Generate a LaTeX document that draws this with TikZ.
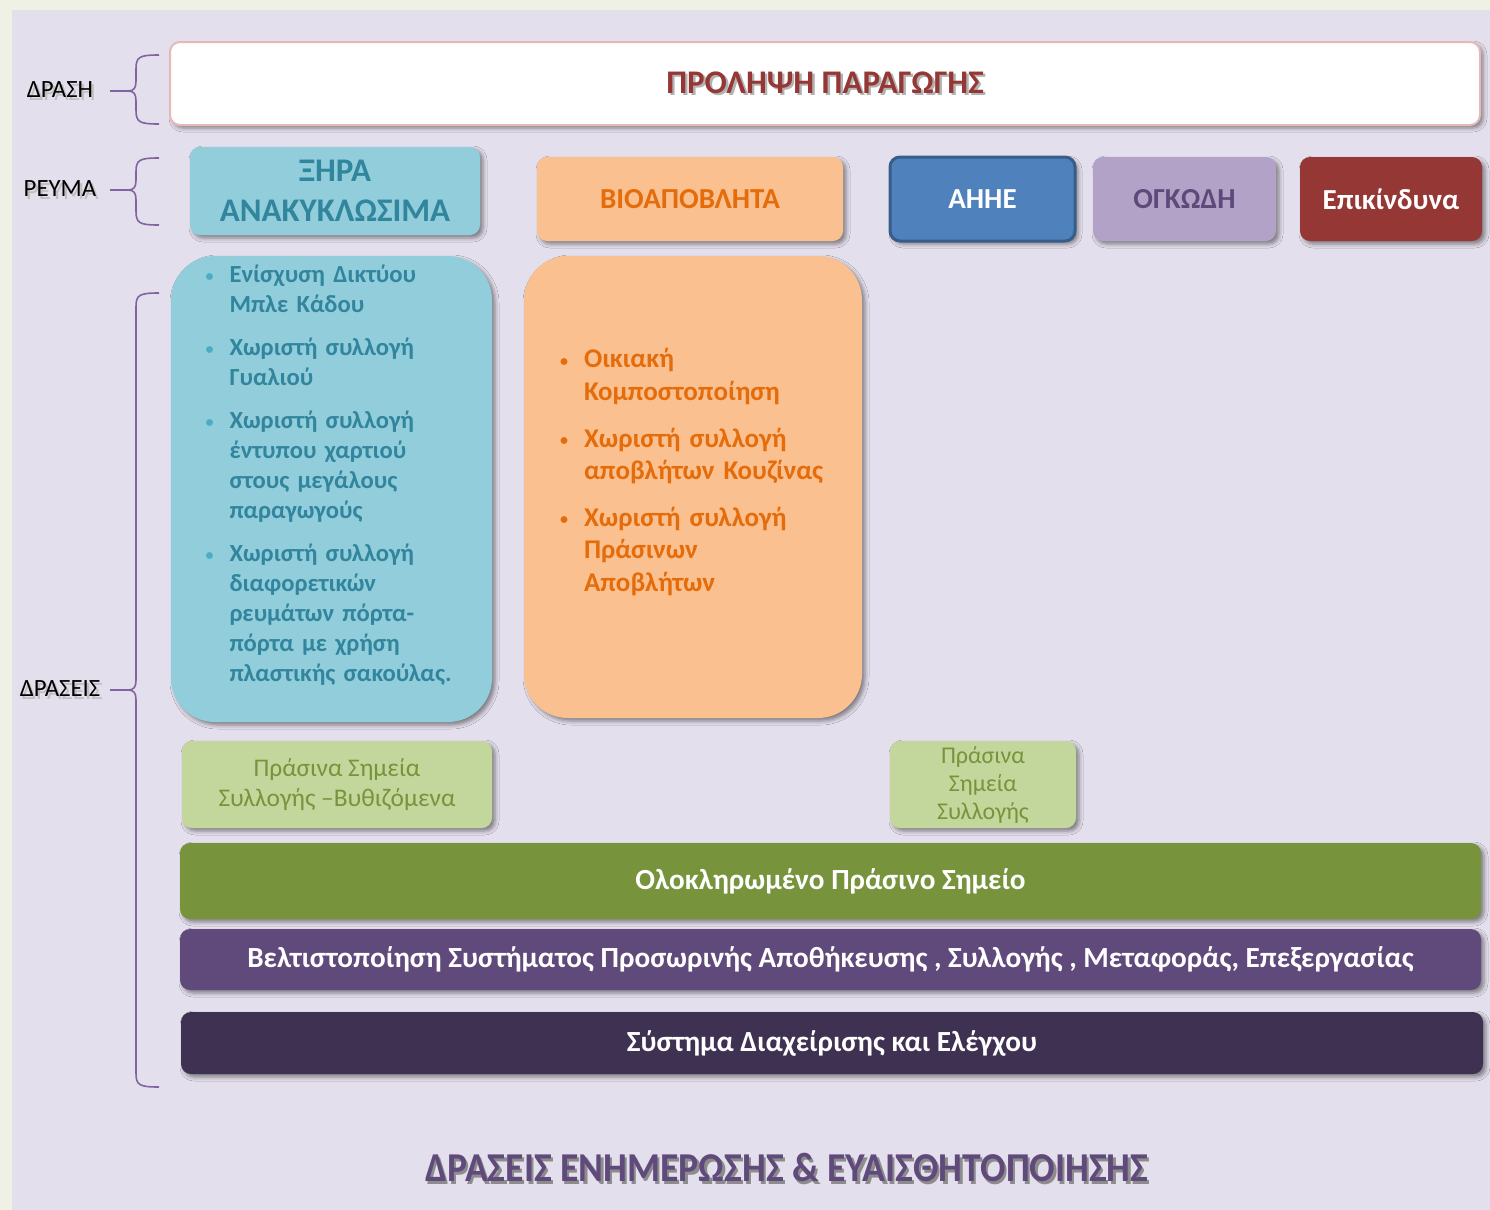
\documentclass[tikz,border=0pt]{standalone}
\usepackage{fontspec}
\usepackage{graphicx}
\setmainfont{Carlito}
\usetikzlibrary{shadows.blur}

\definecolor{pageedge}{HTML}{EEF1E4}
\definecolor{lavender}{HTML}{E4DFEC}
\definecolor{braceline}{HTML}{8064A2}
\definecolor{titlered}{HTML}{953735}
\definecolor{titlepink}{HTML}{E6B9B8}
\definecolor{dryfill}{HTML}{92CDDC}
\definecolor{drytext}{HTML}{31859C}
\definecolor{drybullet}{HTML}{4BACC6}
\definecolor{biofill}{HTML}{FAC090}
\definecolor{biotext}{HTML}{E46C0A}
\definecolor{weeefill}{HTML}{4F81BD}
\definecolor{weeeline}{HTML}{385D8A}
\definecolor{bulkfill}{HTML}{B3A2C7}
\definecolor{bulktext}{HTML}{5F497A}
\definecolor{hazfill}{HTML}{953735}
\definecolor{greenfill}{HTML}{C3D69B}
\definecolor{greentext}{HTML}{77933C}
\definecolor{olivebar}{HTML}{77933C}
\definecolor{purplebar}{HTML}{604A7B}
\definecolor{darkbar}{HTML}{3F3151}

% one bullet point: colour of the bullet, then its lines
\newcommand\bitem[2]{\par\noindent
  \makebox[12pt][l]{\raisebox{0.8pt}{\textcolor{#1}{\footnotesize\textbullet}}}%
  \begin{tabular}[t]{@{}l@{}}#2\end{tabular}}
% a list block, lifted above the centre of its box
\newcommand\listblock[3]{\noindent\raisebox{#1}[0pt][0pt]{\parbox{#2}{#3}}}
\newcommand\shadowtext[2][45]{\makebox[0pt][l]{\hspace{1.2pt}\raisebox{-1.2pt}{\textcolor{black!#1}{#2}}}#2}

\begin{document}
\begin{tikzpicture}[%
    x=0.5pt, y=-0.5pt,
    every node/.style={inner sep=0pt, align=center},
    tile/.style={rounded corners=5pt, font={\fontsize{14.5}{17}\selectfont\bfseries},
                 blur shadow={shadow xshift=1.5pt, shadow yshift=-1.5pt,
                              shadow blur radius=2pt, shadow opacity=45}},
    blob/.style={tile, rounded corners=22pt, align=left},
    bar/.style={tile, text=white, minimum width=650.5pt,
                font={\fontsize{14.6}{17}\selectfont\bfseries}},
    side/.style={font={\fontsize{12.4}{14}\selectfont}},
    brace/.style={draw=braceline, line width=0.8pt}
  ]
  \fill[pageedge] (0,0) rectangle (1490,1210);
  \fill[lavender] (12,10) rectangle (1490,1210);
  \useasboundingbox (0,0) rectangle (1490,1210);

  % row labels and their braces
  \node[side] (act) at (60,91) {\shadowtext[25]{ΔΡΑΣΗ}};
  \node[side] (stream) at (60,190) {\shadowtext[25]{ΡΕΥΜΑ}};
  \node[side] (acts) at (60,690) {\shadowtext[25]{ΔΡΑΣΕΙΣ}};
  \foreach \ba/\bm/\bb in {55/91/124, 158/190/225, 293/690/1087}{
    \draw[brace] (159,\ba) .. controls (139,\ba) and (136,\ba+2) .. (136,\ba+14)
      -- (136,\bm-10) .. controls (136,\bm-3) and (134,\bm) .. (128,\bm) -- (110,\bm);
    \draw[brace] (128,\bm) .. controls (134,\bm) and (136,\bm+3) .. (136,\bm+10)
      -- (136,\bb-14) .. controls (136,\bb-2) and (139,\bb) .. (159,\bb);
  }

  \node[tile, draw=titlepink, line width=1pt, fill=white, text=titlered,
        minimum width=655pt, minimum height=41.5pt,
        font={\fontsize{16.5}{19}\selectfont\bfseries}] (prevention) at (825,83.5)
    {\shadowtext[30]{ΠΡΟΛΗΨΗ ΠΑΡΑΓΩΓΗΣ}};

  % waste streams
  \node[tile, fill=dryfill, text=drytext, minimum width=145pt, minimum height=44pt,
        font={\fontsize{16.5}{20}\selectfont\bfseries}] (dry) at (335,191)
    {ΞΗΡΑ\\ΑΝΑΚΥΚΛΩΣΙΜΑ};
  \node[tile, fill=biofill, text=biotext, minimum width=153pt, minimum height=42pt]
    (bio) at (690,199) {ΒΙΟΑΠΟΒΛΗΤΑ};
  \node[tile, fill=weeefill, draw=weeeline, line width=1.5pt, text=white,
        minimum width=92.5pt, minimum height=42pt] (weee) at (982.5,199) {ΑΗΗΕ};
  \node[tile, fill=bulkfill, text=bulktext, minimum width=91.5pt,
        minimum height=42pt] (bulky) at (1184.5,199) {ΟΓΚΩΔΗ};
  \node[tile, fill=hazfill, text=white, minimum width=91pt,
        minimum height=42pt] (hazard) at (1391,199) {Επικίνδυνα};

  % actions per stream
  \node[blob, fill=dryfill, text=drytext, minimum width=160.5pt, minimum height=233pt,
        text width=140pt, font={\fontsize{12.3}{15}\selectfont\bfseries}] (dry acts) at (331.5,489)
    {\listblock{3.3pt}{140pt}{\leftskip=7pt\parskip=5.5pt\lineskiplimit=-2pt
     \bitem{drybullet}{Ενίσχυση Δικτύου\\Μπλε Κάδου}
     \bitem{drybullet}{Χωριστή συλλογή\\Γυαλιού}
     \bitem{drybullet}{Χωριστή συλλογή\\έντυπου χαρτιού\\στους μεγάλους\\παραγωγούς}
     \bitem{drybullet}{Χωριστή συλλογή\\διαφορετικών\\ρευμάτων πόρτα-\\πόρτα με χρήση\\πλαστικής σακούλας.}}};
  \node[blob, fill=biofill, text=biotext, minimum width=169pt, minimum height=231pt,
        text width=150pt, font={\fontsize{13.5}{16.3}\selectfont\bfseries}] (bio acts) at (693,487)
    {\listblock{3.3pt}{150pt}{\leftskip=8.5pt\parskip=6pt\lineskiplimit=-2pt
     \bitem{biotext}{Οικιακή\\Κομποστοποίηση}
     \bitem{biotext}{Χωριστή συλλογή\\αποβλήτων Κουζίνας}
     \bitem{biotext}{Χωριστή συλλογή\\Πράσινων\\Αποβλήτων}}};

  \node[tile, fill=greenfill, text=greentext, minimum width=155pt, minimum height=43.5pt,
        font={\fontsize{12.7}{15}\selectfont}] (green point) at (337,784.5)
    {Πράσινα Σημεία\\Συλλογής –Βυθιζόμενα};
  \node[tile, fill=greenfill, text=greentext, minimum width=93pt, minimum height=43.5pt,
        font={\fontsize{12}{14}\selectfont}] (green spot) at (983,784.5)
    {Πράσινα\\Σημεία\\Συλλογής};

  % common actions
  \node[bar, fill=olivebar, minimum height=38pt] (integrated) at (830.5,881)
    {Ολοκληρωμένο Πράσινο Σημείο};
  \node[bar, fill=purplebar, minimum height=30.5pt] (logistics) at (830.5,959.5)
    {Βελτιστοποίηση Συστήματος Προσωρινής Αποθήκευσης , Συλλογής , Μεταφοράς, Επεξεργασίας};
  \node[bar, fill=darkbar, minimum width=651pt, minimum height=31pt] (management) at (832,1043)
    {Σύστημα Διαχείρισης και Ελέγχου};

  \node[text=purplebar, font={\fontsize{20.5}{24}\selectfont\bfseries}] (awareness) at (787,1169)
    {\scalebox{0.92}[1]{\shadowtext{ΔΡΑΣΕΙΣ ΕΝΗΜΕΡΩΣΗΣ \& ΕΥΑΙΣΘΗΤΟΠΟΙΗΣΗΣ}}};
\end{tikzpicture}
\end{document}
